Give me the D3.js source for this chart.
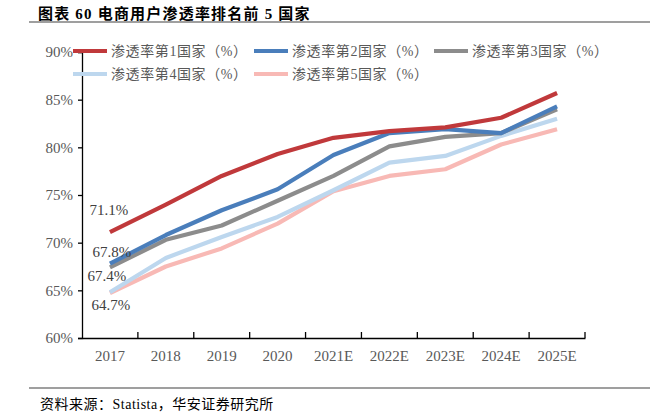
<!DOCTYPE html>
<html>
<head>
<meta charset="utf-8">
<script src="https://cdn.jsdelivr.net/npm/d3@7"></script>
<style>
  body { margin: 0; background: #fff; }
  text { font-family: "Liberation Serif", "Noto Sans CJK SC", serif; }
</style>
</head>
<body>
<svg id="chart" width="650" height="413"></svg>
<script>
// Data
const years = ['2017', '2018', '2019', '2020', '2021E', '2022E', '2023E', '2024E', '2025E'];
const seriesNames = ['渗透率第1国家（%）', '渗透率第2国家（%）', '渗透率第3国家（%）', '渗透率第4国家（%）', '渗透率第5国家（%）'];
const country1 = [71.1, 74.0, 77.0, 79.3, 81.0, 81.7, 82.1, 83.1, 85.7];
const country2 = [67.8, 70.8, 73.4, 75.6, 79.2, 81.5, 81.9, 81.5, 84.3];
const country3 = [67.4, 70.3, 71.8, 74.4, 77.0, 80.1, 81.1, 81.5, 84.0];
const country4 = [64.8, 68.4, 70.6, 72.7, 75.5, 78.4, 79.1, 81.2, 83.0];
const country5 = [64.7, 67.5, 69.4, 72.0, 75.4, 77.0, 77.7, 80.3, 81.9];
const yTicks = [60, 65, 70, 75, 80, 85, 90];
const startLabels = ['71.1%', '67.8%', '67.4%', '64.7%'];

const colors = ['#C0393B', '#4A7EBB', '#8C8C8C', '#BDD7EE', '#F8B9B5'];
const allSeries = [country1, country2, country3, country4, country5];

const svg = d3.select('#chart');

// Title + rules
svg.append('text').attr('x', 38).attr('y', 19)
  .attr('font-size', 15).attr('font-weight', 'bold').attr('fill', '#000')
  .attr('letter-spacing', 1.2).attr('xml:space', 'preserve').style('white-space', 'pre')
  .text('图表 60 电商用户渗透率排名前 5 国家');
svg.append('line').attr('x1', 29).attr('x2', 650).attr('y1', 22).attr('y2', 22)
  .attr('stroke', '#7f7f7f').attr('stroke-width', 1.5);
svg.append('line').attr('x1', 29).attr('x2', 650).attr('y1', 388).attr('y2', 388)
  .attr('stroke', '#7f7f7f').attr('stroke-width', 1.5);
svg.append('text').attr('x', 40).attr('y', 409)
  .attr('font-size', 14).attr('fill', '#000').attr('letter-spacing', 0.5)
  .text('资料来源：Statista，华安证券研究所');

// Scales
const x = d3.scaleBand().domain(years).range([82, 585]);
const y = d3.scaleLinear().domain([60, 90]).range([338, 52]);

// Axes
const yAxis = svg.append('g').attr('transform', 'translate(82,0)')
  .call(d3.axisLeft(y).tickValues(yTicks).tickSize(4).tickPadding(5).tickFormat(d => d + '%'));
const xAxis = svg.append('g').attr('transform', 'translate(0,338)')
  .call(d3.axisBottom(x).tickSize(0).tickPadding(12));

[yAxis, xAxis].forEach(a => {
  a.select('.domain').attr('stroke', '#000').attr('stroke-width', 1.3);
  a.selectAll('.tick line').attr('stroke', '#000').attr('stroke-width', 1.3);
  a.selectAll('text').attr('font-size', 15).attr('fill', '#595959')
    .attr('font-family', '"Liberation Serif", serif');
});

// Category boundary ticks on x axis
const bounds = years.map(d => x(d) + x.bandwidth());
svg.append('g').selectAll('line').data(bounds).join('line')
  .attr('x1', d => d).attr('x2', d => d).attr('y1', 338).attr('y2', 332)
  .attr('stroke', '#000').attr('stroke-width', 1.3);

// Lines (draw lighter ones first)
const line = d3.line().x((d, i) => x(years[i]) + x.bandwidth() / 2).y(d => y(d));
const order = [4, 3, 2, 1, 0];
svg.append('g').selectAll('path').data(order).join('path')
  .attr('d', i => line(allSeries[i]))
  .attr('fill', 'none').attr('stroke', i => colors[i])
  .attr('stroke-width', 4.2).attr('stroke-linejoin', 'round');

// Start labels
const labelPos = [
  { s: 0, dx: -1, dy: -17 },
  { s: 1, dx: 2, dy: -7 },
  { s: 2, dx: -3, dy: 14 },
  { s: 4, dx: 1, dy: 17 }
];
svg.append('g').selectAll('text').data(labelPos).join('text')
  .attr('x', d => x(years[0]) + x.bandwidth() / 2 + d.dx)
  .attr('y', d => y(allSeries[d.s][0]) + d.dy)
  .attr('text-anchor', 'middle').attr('font-size', 15).attr('fill', '#404040')
  .text((d, i) => startLabels[i]);

// Legend
const legendPos = [[73, 51], [254, 51], [434, 51], [73, 74], [254, 74]];
const lg = svg.append('g').selectAll('g').data(seriesNames).join('g')
  .attr('transform', (d, i) => `translate(${legendPos[i][0]},${legendPos[i][1]})`);
lg.append('line').attr('x1', 0).attr('x2', 34).attr('y1', 0).attr('y2', 0)
  .attr('stroke', (d, i) => colors[i]).attr('stroke-width', 4);
lg.append('text').attr('x', 38).attr('y', 5).attr('font-size', 14).attr('fill', '#595959')
  .attr('letter-spacing', 0.6)
  .text(d => d);
</script>
</body>
</html>
